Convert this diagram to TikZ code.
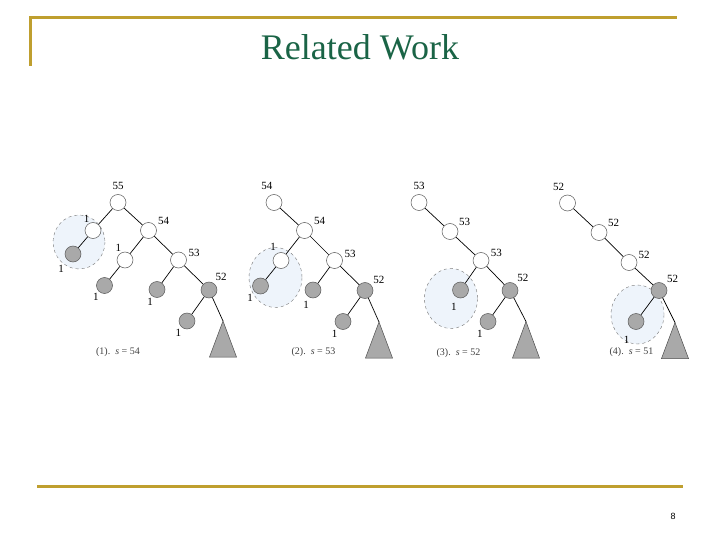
\documentclass[tikz,border=0pt]{standalone}
\usepackage{fontspec}
\setmainfont{Liberation Serif}
\newfontfamily\pagefont{Liberation Sans}
\usetikzlibrary{positioning}
\definecolor{slideGold}{HTML}{BF9F2F}
\definecolor{slideGreen}{HTML}{1A6446}
\definecolor{haloBlue}{HTML}{EEF4FB}
\definecolor{leafGray}{HTML}{A9A9A9}

\begin{document}
\begin{tikzpicture}[x=1pt,y=-1pt,font=\fontsize{11}{13}\selectfont,
      inner/.style={circle,draw=black!65,fill=white,minimum size=16pt,inner sep=0pt,line width=0.5pt},
      leaf/.style={circle,draw=black!65,fill=leafGray,minimum size=16pt,inner sep=0pt,line width=0.5pt},
      halo/.style={draw=black!55,fill=haloBlue,dashed,line width=0.4pt},
      sub/.style={draw=black!70,fill=leafGray,line width=0.5pt},
      branch/.style={draw=black,line width=0.7pt},
      num/.style={inner sep=0pt,label distance=2.5pt},
      one/.style={inner sep=0pt,label distance=1.5pt},
      caption/.style={text=black!75,font=\fontsize{10}{12}\selectfont},
      rule/.style={draw=slideGold,line width=3pt}]
    \useasboundingbox (0,0) rectangle (720,540);
    % slide frame
    \draw[rule] (30,66) -- (30,18) -- (677,18);
    \draw[rule] (37,486) -- (683,486);
    \node[anchor=base,text=slideGreen,font=\fontsize{36}{40}\selectfont] (title) at (360,60) {Related Work};
    \node[font=\pagefont\fontsize{9}{10}\selectfont] (pagenum) at (673,516) {8};

    % tree (1)
    \path[halo] (79,242) ellipse [x radius=26,y radius=27];
    \node[inner,label={[num,label distance=4.5pt]above:55}] (r1) at (118,202.5) {};
    \node[inner,label={[one,label distance=0pt]115:1}] (a1) at (93,230.5) {};
    \node[leaf,label={[one,label distance=6pt]231:1}] (ag1) at (73,254) {};
    \node[inner,label={[num]30:54}] (b1) at (148.5,230.5) {};
    \node[inner,label={[one,label distance=0.5pt]115:1}] (c1) at (125,260) {};
    \node[leaf,label={[one]234:1}] (cg1) at (104.5,285.5) {};
    \node[inner,label={[num,label distance=2pt]17:53}] (d1) at (178.5,260) {};
    \node[leaf,label={[one]247:1}] (dg1) at (157,289.5) {};
    \node[leaf,label={[num,label distance=3pt]55:52}] (e1) at (209,290) {};
    \node[leaf,label={[one,label distance=2pt]236:1}] (eg1) at (187,321) {};
    \coordinate (t1) at (223,321);
    \draw[sub] (t1) -- ++(-13.5,36) -- ++(27,0) -- cycle;
    \foreach \a/\b in {r1/a1,a1/ag1,r1/b1,b1/c1,c1/cg1,b1/d1,d1/dg1,d1/e1,e1/eg1,e1/t1}
      \draw[branch] (\a) -- (\b);
    \node[caption] (cap1) at (118,352) {(1).\ \ \textit{s}\ =\ 54};

    % tree (2)
    \begin{scope}[shift={(156,0)}]
      \path[halo] (119.5,277.5) ellipse [x radius=26.5,y radius=30];
      \node[inner,label={[num,label distance=4.5pt]97:54}] (r2) at (118,202.5) {};
      \node[inner,label={[num]30:54}] (b2) at (148.5,230.5) {};
      \node[inner,label={[one,label distance=2.5pt]117:1}] (c2) at (125,260.5) {};
      \node[leaf,label={[one,label distance=3pt]228:1}] (cg2) at (104.5,286) {};
      \node[inner,label={[num,label distance=2pt]15:53}] (d2) at (178.5,260.5) {};
      \node[leaf,label={[one,label distance=3pt]250:1}] (dg2) at (157,290) {};
      \node[leaf,label={[num,label distance=2.5pt]40:52}] (e2) at (209,290.5) {};
      \node[leaf,label={[one,label distance=1.5pt]236:1}] (eg2) at (187,321.5) {};
      \coordinate (t2) at (223,322);
      \draw[sub] (t2) -- ++(-13.5,36) -- ++(27,0) -- cycle;
      \foreach \a/\b in {r2/b2,b2/c2,c2/cg2,b2/d2,d2/dg2,d2/e2,e2/eg2,e2/t2}
        \draw[branch] (\a) -- (\b);
      \node[caption] (cap2) at (157.5,352.5) {(2).\ \ \textit{s}\ =\ 53};
    \end{scope}

    % tree (3)
    \begin{scope}[shift={(301,0)}]
      \path[halo] (150,298.5) ellipse [x radius=26.5,y radius=30];
      \node[inner,label={[num,label distance=4.5pt]above:53}] (r3) at (118,202.5) {};
      \node[inner,label={[num]34:53}] (b3) at (149,231.5) {};
      \node[inner,label={[num,label distance=2pt]19:53}] (d3) at (180,260.5) {};
      \node[leaf,label={[one,label distance=5pt]254:1}] (dg3) at (159.5,290) {};
      \node[leaf,label={[num,label distance=3pt]50:52}] (e3) at (209,290.5) {};
      \node[leaf,label={[one,label distance=2pt]240:1}] (eg3) at (187,321.5) {};
      \coordinate (t3) at (225,321.5);
      \draw[sub] (t3) -- ++(-13.5,36.5) -- ++(27,0) -- cycle;
      \foreach \a/\b in {r3/b3,b3/d3,d3/dg3,d3/e3,e3/eg3,e3/t3}
        \draw[branch] (\a) -- (\b);
      \node[caption] (cap3) at (157.5,353) {(3).\ \ \textit{s}\ =\ 52};
    \end{scope}

    % tree (4)
    \begin{scope}[shift={(450,0)}]
      \path[halo] (187.5,314.5) ellipse [x radius=26.5,y radius=29.5];
      \node[inner,label={[num,label distance=4pt]105:52}] (r4) at (117.5,203) {};
      \node[inner,label={[num]34:52}] (b4) at (149,232.5) {};
      \node[inner,label={[num,label distance=2pt]24:52}] (d4) at (179,262.5) {};
      \node[leaf,label={[num,label distance=3pt]46:52}] (e4) at (209,290.5) {};
      \node[leaf,label={[one,label distance=8pt]247:1}] (eg4) at (186,321.5) {};
      \coordinate (t4) at (225,322.5);
      \draw[sub] (t4) -- ++(-13.5,36) -- ++(27,0) -- cycle;
      \foreach \a/\b in {r4/b4,b4/d4,d4/e4,e4/eg4,e4/t4}
        \draw[branch] (\a) -- (\b);
      \node[caption] (cap4) at (181.5,352.5) {(4).\ \ \textit{s}\ =\ 51};
    \end{scope}
  \end{tikzpicture}
\end{document}
